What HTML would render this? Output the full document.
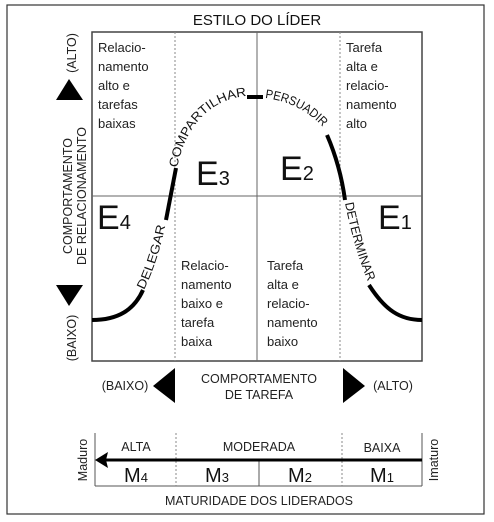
<!DOCTYPE html>
<html><head><meta charset="utf-8"><style>
html,body{margin:0;padding:0;background:#fff;}
svg{display:block;font-family:"Liberation Sans",sans-serif;}
</style></head><body>
<svg width="494" height="522" viewBox="0 0 494 522" xmlns="http://www.w3.org/2000/svg">
<rect x="7" y="5" width="477" height="509" fill="#fff" stroke="#333" stroke-width="1.2"/>
<text x="257" y="25" font-size="15" text-anchor="middle" fill="#111">ESTILO DO LÍDER</text>
<!-- main grid -->
<rect x="92" y="32" width="330" height="329" fill="none" stroke="#444" stroke-width="1.5"/>
<line x1="257" y1="32" x2="257" y2="361" stroke="#666" stroke-width="1"/>
<line x1="92" y1="196" x2="422" y2="196" stroke="#666" stroke-width="1"/>
<line x1="175" y1="32" x2="175" y2="361" stroke="#888" stroke-width="1" stroke-dasharray="2,2"/>
<line x1="340" y1="32" x2="340" y2="361" stroke="#888" stroke-width="1" stroke-dasharray="2,2"/>
<g font-size="13" fill="#222">
<text x="98" y="52">Relacio-</text><text x="98" y="71">namento</text><text x="98" y="90">alto e</text><text x="98" y="109">tarefas</text><text x="98" y="128">baixas</text>
<text x="346" y="52">Tarefa</text><text x="346" y="71">alta e</text><text x="346" y="90">relacio-</text><text x="346" y="109">namento</text><text x="346" y="128">alto</text>
<text x="181" y="270">Relacio-</text><text x="181" y="289">namento</text><text x="181" y="308">baixo e</text><text x="181" y="327">tarefa</text><text x="181" y="346">baixa</text>
<text x="267" y="270">Tarefa</text><text x="267" y="289">alta e</text><text x="267" y="308">relacio-</text><text x="267" y="327">namento</text><text x="267" y="346">baixo</text>
</g>
<g fill="#111">
<text x="97" y="229" font-size="34">E<tspan font-size="20">4</tspan></text>
<text x="196" y="185" font-size="34">E<tspan font-size="20">3</tspan></text>
<text x="280" y="180" font-size="34">E<tspan font-size="20">2</tspan></text>
<text x="378" y="229" font-size="34">E<tspan font-size="20">1</tspan></text>
</g>
<!-- curve -->
<g fill="none" stroke="#000" stroke-width="4" stroke-linecap="butt">
<path d="M92,320 C118,320 134,310 143,290"/>
<path d="M166,220 L176,168"/>
<path d="M247,97 L263,97"/>
<path d="M327,135 C337,158 342,178 345,200"/>
<path d="M369,285 C385,310 400,320 422,320"/>
</g>
<defs>
<path id="p1" d="M144,290 Q158,262 166,222"/>
<path id="p2" d="M177,168 C186,125 210,100 246,96"/>
<path id="p3" d="M265,98 C290,101 311,112 327,132"/>
<path id="p4" d="M345,203 C352,238 360,263 369,284"/>
</defs>
<g font-size="12.5" fill="#111">
<text><textPath href="#p1" textLength="68" lengthAdjust="spacingAndGlyphs">DELEGAR</textPath></text>
<text><textPath href="#p2" textLength="108" lengthAdjust="spacingAndGlyphs">COMPARTILHAR</textPath></text>
<text><textPath href="#p3" textLength="66" lengthAdjust="spacingAndGlyphs">PERSUADIR</textPath></text>
<text><textPath href="#p4" textLength="82" lengthAdjust="spacingAndGlyphs">DETERMINAR</textPath></text>
</g>
<!-- left axis -->
<polygon points="69,79 83,100 56,100" fill="#000"/>
<polygon points="56,285 83,285 69,306" fill="#000"/>
<g font-size="12.5" fill="#222">
<text transform="translate(76,53) rotate(-90)" text-anchor="middle">(ALTO)</text>
<text transform="translate(76,338) rotate(-90)" text-anchor="middle">(BAIXO)</text>
<text transform="translate(72,196) rotate(-90)" text-anchor="middle">COMPORTAMENTO</text>
<text transform="translate(86,196) rotate(-90)" text-anchor="middle">DE RELACIONAMENTO</text>
</g>
<!-- bottom axis -->
<polygon points="175,368 175,403 153,386" fill="#000"/>
<polygon points="343,368 343,403 365,386" fill="#000"/>
<g font-size="12.5" fill="#222">
<text x="125" y="390" text-anchor="middle">(BAIXO)</text>
<text x="393" y="390" text-anchor="middle">(ALTO)</text>
<text x="259" y="383" text-anchor="middle">COMPORTAMENTO</text>
<text x="259" y="399" text-anchor="middle">DE TAREFA</text>
</g>
<!-- maturity -->
<line x1="95" y1="433" x2="95" y2="486" stroke="#555" stroke-width="1"/>
<line x1="422" y1="433" x2="422" y2="486" stroke="#555" stroke-width="1"/>
<line x1="95" y1="486" x2="422" y2="486" stroke="#555" stroke-width="1"/>
<line x1="176" y1="433" x2="176" y2="486" stroke="#888" stroke-dasharray="2,2"/>
<line x1="342" y1="433" x2="342" y2="486" stroke="#888" stroke-dasharray="2,2"/>
<line x1="259" y1="460" x2="259" y2="486" stroke="#555"/>
<line x1="104" y1="460" x2="422" y2="460" stroke="#000" stroke-width="3"/>
<polygon points="95,460 108,452 106,460 108,468" fill="#000"/>
<g font-size="12.5" fill="#222" text-anchor="middle">
<text x="136" y="451">ALTA</text>
<text x="259" y="451">MODERADA</text>
<text x="382" y="452">BAIXA</text>
<text x="259" y="505">MATURIDADE DOS LIDERADOS</text>
<text transform="translate(87,460) rotate(-90)">Maduro</text>
<text transform="translate(438,460) rotate(-90)">Imaturo</text>
</g>
<g font-size="20" fill="#111" text-anchor="middle">
<text x="136" y="482">M<tspan font-size="13">4</tspan></text>
<text x="217" y="482">M<tspan font-size="13">3</tspan></text>
<text x="300" y="482">M<tspan font-size="13">2</tspan></text>
<text x="382" y="482">M<tspan font-size="13">1</tspan></text>
</g>
</svg>
</body></html>
